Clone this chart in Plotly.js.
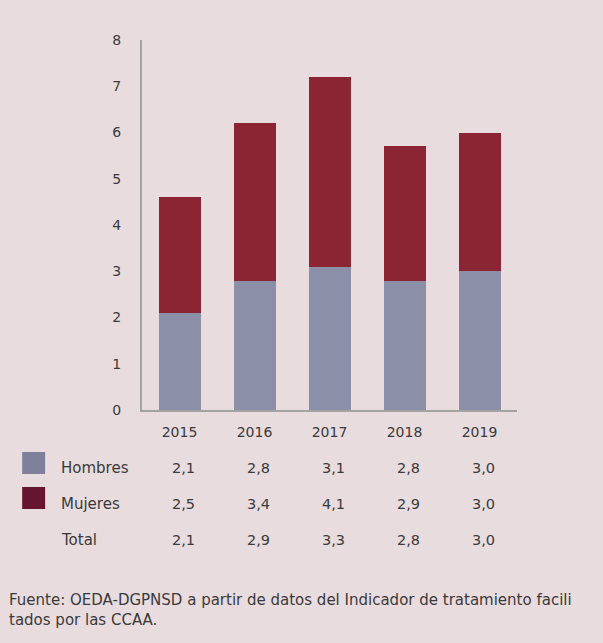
<!DOCTYPE html>
<html><head><meta charset="utf-8">
<script src="https://cdn.plot.ly/plotly-3.0.1.min.js"></script>
<style>html,body{margin:0;padding:0;background:#e9dcdf;}#c{width:603px;height:643px;}</style>
</head><body><div id="c"></div>
<script>
const years = ['2015','2016','2017','2018','2019'];
const hombres = [2.1, 2.8, 3.1, 2.8, 3.0];
const mujeres = [2.5, 3.4, 4.1, 2.9, 3.0];
const total = [2.1, 2.9, 3.3, 2.8, 3.0];
const rowLabels = ['Hombres', 'Mujeres', 'Total'];
const yTicks = [0,1,2,3,4,5,6,7,8];
const footer1 = 'Fuente: OEDA-DGPNSD a partir de datos del Indicador de tratamiento facili';
const footer2 = 'tados por las CCAA.';

const FONT = 'DejaVu Sans, sans-serif';
const TXT = '#3a3a3a';
const fmt = v => v.toFixed(1).replace('.', ',');

const L = 142, R = 517.5, T = 40, B = 410;
const px = p => (p - L) / (R - L);
const py = q => (B - q) / (B - T);

const traces = [
  {type:'bar', x: years, y: hombres, name:'Hombres', marker:{color:'#8c8fa8'}},
  {type:'bar', x: years, y: mujeres, name:'Mujeres', marker:{color:'#8b2533'}}
];

const rows = [hombres, mujeres, total];
const rowY = [468, 504, 540];
const ann = [];
rows.forEach((r, i) => {
  ann.push({xref:'paper', yref:'paper', x: px(59), y: py(rowY[i]), xanchor:'left', yanchor:'middle',
    text: rowLabels[i], showarrow:false, font:{family:FONT, size:15, color:TXT}});
  r.forEach((v, j) => {
    ann.push({xref:'x', yref:'paper', x: j, xshift: 4, y: py(rowY[i]), xanchor:'center', yanchor:'middle',
      text: fmt(v), showarrow:false, font:{family:FONT, size:14.5, color:TXT}});
  });
});
ann.push({xref:'paper', yref:'paper', x: px(7), y: py(600), xanchor:'left', yanchor:'middle',
  text: footer1, showarrow:false, font:{family:FONT, size:15, color:TXT}});
ann.push({xref:'paper', yref:'paper', x: px(7), y: py(620), xanchor:'left', yanchor:'middle',
  text: footer2, showarrow:false, font:{family:FONT, size:15, color:TXT}});

const shapes = [
  {type:'rect', xref:'paper', yref:'paper', x0: px(22), x1: px(45), y0: py(474), y1: py(452), fillcolor:'#7f819c', line:{width:0}},
  {type:'rect', xref:'paper', yref:'paper', x0: px(22), x1: px(45), y0: py(509), y1: py(487), fillcolor:'#661530', line:{width:0}}
];

const layout = {
  width:603, height:643,
  paper_bgcolor:'#e9dcdf', plot_bgcolor:'#e9dcdf',
  margin:{l:L, r:603-R, t:T, b:643-B, pad:0},
  barmode:'stack', bargap:0.44, showlegend:false,
  font:{family:FONT, color:TXT, size:14},
  xaxis:{type:'category', range:[-0.5,4.5], showline:true, linecolor:'#a3a39f', linewidth:2,
    showgrid:false, ticks:'', ticklabelstandoff:8, tickfont:{size:14, color:TXT}, fixedrange:true},
  yaxis:{range:[0,8], tickvals:yTicks, showline:true, linecolor:'#a3a39f', linewidth:2,
    showgrid:false, zeroline:false, ticks:'', ticklabelstandoff:16, tickfont:{size:14, color:TXT}, fixedrange:true},
  annotations: ann, shapes: shapes
};
Plotly.newPlot('c', traces, layout, {displayModeBar:false, staticPlot:true});
</script></body></html>
